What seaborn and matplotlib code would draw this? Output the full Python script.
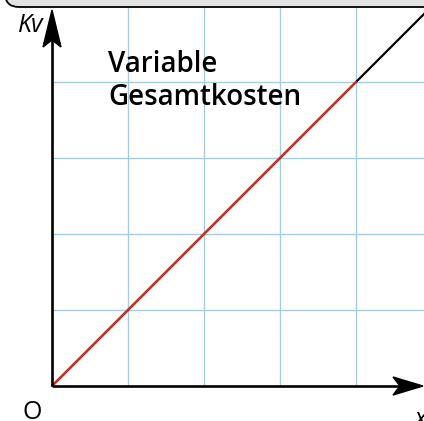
import matplotlib
matplotlib.use("Agg")
import matplotlib.pyplot as plt
import matplotlib.transforms as mtransforms
from matplotlib.patches import FancyBboxPatch, Polygon
import pandas as pd
import seaborn as sns

# Data: quantity (x) and variable total cost (Kv), one grid unit per step
menge = [0, 1, 2, 3, 4, 5]
kv_gesamt = [0, 1, 2, 3, 4, 5]
menge_rot = [0, 1, 2, 3, 4]
kv_rot = [0, 1, 2, 3, 4]
grid_x = [1, 2, 3, 4]
grid_y = [1, 2, 3, 4, 5]

W, H, DPI = 424, 421, 100
UNIT = 76.0          # pixels per grid step
ORIGIN = (52, 386)   # origin in pixels, measured from top-left

sns.set_style("white")
plt.rcParams["font.family"] = ["Open Sans", "DejaVu Sans"]
plt.rcParams["text.color"] = "black"

fig = plt.figure(figsize=(W / DPI, H / DPI), dpi=DPI)
ax = fig.add_axes([0, 0, 1, 1])
ax.set_xlim(-ORIGIN[0] / UNIT, (W - ORIGIN[0]) / UNIT)
ax.set_ylim(-(H - ORIGIN[1]) / UNIT, ORIGIN[1] / UNIT)

top = ORIGIN[1] / UNIT
right = (W - ORIGIN[0]) / UNIT

# blue grid
grid_col = "#a8cce0"
ax.vlines(grid_x, 0, top, color=grid_col, lw=1.0, zorder=1)
ax.hlines(grid_y, 0, right, color=grid_col, lw=1.0, zorder=1)

df_all = pd.DataFrame({"x": menge, "Kv": kv_gesamt})
df_red = pd.DataFrame({"x": menge_rot, "Kv": kv_rot})
sns.lineplot(data=df_all, x="x", y="Kv", color="black", lw=1.6, ax=ax, zorder=3)
sns.lineplot(data=df_red, x="x", y="Kv", color="#cc3529", lw=1.6, ax=ax, zorder=4)
ax.axis("off")

# axes with stealth-style arrow heads
x_tip = (423 - ORIGIN[0]) / UNIT
y_tip = (ORIGIN[1] - 10) / UNIT
hx, hy, hw, notch = 30 / UNIT, 37 / UNIT, 9 / UNIT, 7 / UNIT
ax.plot([0, x_tip - hx + notch], [0, 0], color="black", lw=1.9, zorder=5,
        solid_capstyle="butt")
ax.plot([0, 0], [0, y_tip - hy + notch], color="black", lw=1.9, zorder=5,
        solid_capstyle="butt")
ax.add_patch(Polygon([(x_tip, 0), (x_tip - hx, hw), (x_tip - hx + notch, 0),
                      (x_tip - hx, -hw)], closed=True, color="black", zorder=6))
ax.add_patch(Polygon([(0, y_tip), (hw, y_tip - hy), (0, y_tip - hy + notch),
                      (-hw, y_tip - hy)], closed=True, color="black", zorder=6))

# labels
ax.text((108 - ORIGIN[0]) / UNIT, (ORIGIN[1] - 72) / UNIT, "Variable",
        fontsize=20, fontweight="semibold", ha="left", va="baseline", zorder=7)
ax.text((108 - ORIGIN[0]) / UNIT, (ORIGIN[1] - 105) / UNIT, "Gesamtkosten",
        fontsize=20, fontweight="semibold", ha="left", va="baseline", zorder=7)
ax.text((43 - ORIGIN[0]) / UNIT, (ORIGIN[1] - 32) / UNIT, "Kv", fontsize=18,
        style="italic", ha="right", va="baseline", zorder=7)
ax.text((22 - ORIGIN[0]) / UNIT, (ORIGIN[1] - 419) / UNIT, "O", fontsize=18,
        ha="left", va="baseline", zorder=7)
ax.text((415 - ORIGIN[0]) / UNIT, (ORIGIN[1] - 426) / UNIT, "x", fontsize=18,
        style="italic", ha="left", va="baseline", zorder=7)

# grey header band with rounded corner at the top
band = FancyBboxPatch((5, H - 7), 460, 40,
                      boxstyle="round,pad=0,rounding_size=14",
                      facecolor="#e3e3e3", edgecolor="black", lw=1.3,
                      transform=mtransforms.IdentityTransform(), zorder=10)
fig.add_artist(band)

fig.savefig("out.png", dpi=DPI)
